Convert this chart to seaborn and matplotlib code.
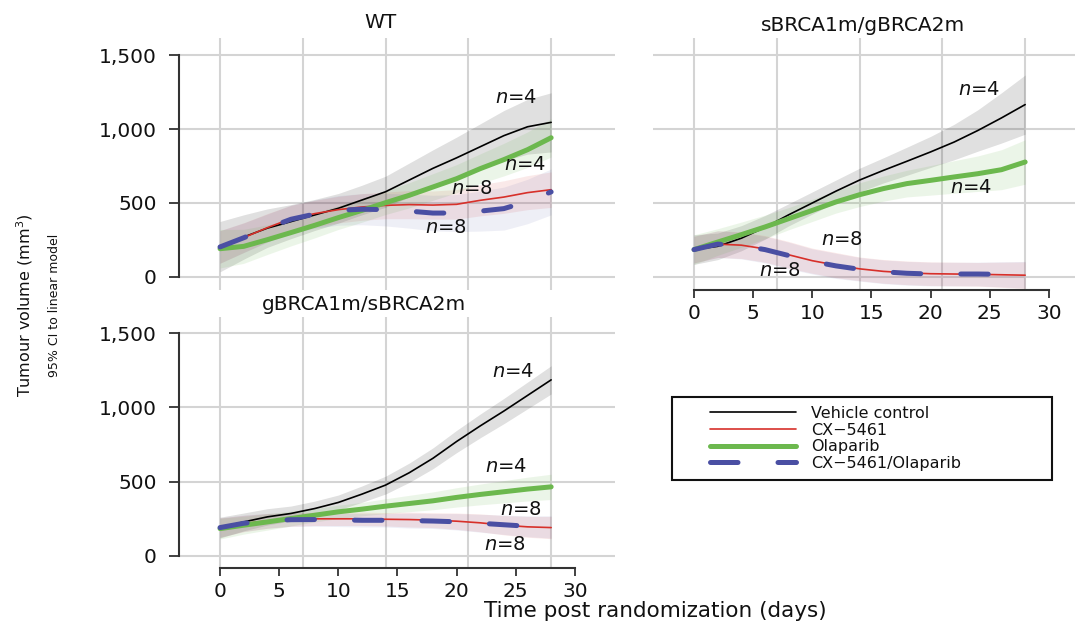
import matplotlib
matplotlib.use("Agg")
import matplotlib.pyplot as plt
import matplotlib.transforms as mtransforms
from matplotlib.lines import Line2D
from matplotlib.patches import Rectangle
import numpy as np
import pandas as pd
import seaborn as sns

# ---- data (days post randomization, tumour volume mm3) ----
days = [0, 2, 4, 6, 8, 10, 12, 14, 16, 18, 20, 22, 24, 26, 28]
treatments = ['Vehicle control', 'CX\u22125461', 'Olaparib', 'CX\u22125461/Olaparib']
panel_titles = ['WT', 'sBRCA1m/gBRCA2m', 'gBRCA1m/sBRCA2m']

# WT
wt_vehicle = [205, 270, 330, 374, 419, 464, 520, 576, 655, 734, 805, 880, 955, 1015, 1045]
wt_cx = [203, 266, 333, 394, 428, 455, 473, 484, 489, 486, 491, 518, 540, 570, 590]
wt_ola = [191, 207, 252, 300, 349, 401, 450, 502, 552, 608, 664, 732, 793, 860, 941]
wt_combo = [203, 265, 330, 390, 425, 450, 458, 455, 445, 432, 432, 445, 462, 510, 575]
wt_vehicle_ci = [170, 150, 130, 115, 105, 100, 100, 105, 115, 125, 140, 155, 170, 185, 200]
wt_cx_ci = [110, 100, 95, 90, 90, 90, 90, 90, 95, 95, 100, 105, 110, 115, 120]
wt_ola_ci = [130, 115, 100, 90, 85, 80, 80, 80, 85, 90, 95, 100, 110, 120, 130]
wt_combo_ci = [110, 100, 95, 95, 95, 100, 105, 110, 115, 120, 125, 135, 145, 150, 155]

# sBRCA1m/gBRCA2m
s1g2_vehicle = [185, 207, 262, 335, 420, 500, 580, 655, 720, 782, 845, 912, 990, 1075, 1165]
s1g2_cx = [185, 222, 215, 190, 150, 110, 80, 55, 38, 28, 22, 20, 18, 15, 12]
s1g2_ola = [185, 236, 286, 338, 394, 450, 507, 556, 597, 631, 653, 676, 698, 725, 777]
s1g2_combo = [185, 222, 212, 185, 145, 105, 75, 52, 35, 25, 20, 20, 20, 18, 15]
s1g2_vehicle_ci = [100, 90, 85, 80, 75, 75, 75, 80, 85, 95, 105, 120, 140, 170, 200]
s1g2_cx_ci = [90, 90, 90, 90, 90, 85, 85, 80, 80, 80, 80, 80, 80, 85, 90]
s1g2_ola_ci = [100, 90, 85, 80, 75, 75, 75, 80, 85, 90, 100, 110, 120, 135, 150]
s1g2_combo_ci = [90, 90, 90, 90, 90, 85, 85, 80, 80, 80, 80, 80, 80, 85, 90]

# gBRCA1m/sBRCA2m
g1s2_vehicle = [191, 229, 263, 286, 319, 360, 416, 477, 560, 657, 770, 875, 975, 1080, 1185]
g1s2_cx = [191, 218, 236, 245, 250, 250, 250, 247, 245, 241, 234, 223, 207, 196, 191]
g1s2_ola = [184, 207, 229, 252, 274, 297, 315, 335, 353, 371, 394, 414, 432, 450, 465]
g1s2_combo = [191, 220, 236, 244, 245, 243, 240, 240, 238, 235, 230, 220, 210, 200, 195]
g1s2_vehicle_ci = [70, 60, 55, 50, 50, 50, 55, 60, 65, 70, 75, 80, 85, 90, 95]
g1s2_cx_ci = [65, 55, 50, 45, 45, 45, 45, 45, 50, 50, 55, 60, 65, 70, 75]
g1s2_ola_ci = [70, 60, 55, 50, 45, 45, 45, 50, 55, 60, 65, 70, 75, 80, 85]
g1s2_combo_ci = [65, 55, 50, 45, 45, 45, 45, 45, 50, 50, 55, 60, 65, 70, 75]

# n= annotations: (day, volume, n)
wt_labels = [(25.0, 1216, 4), (25.8, 757, 4), (21.3, 601, 8), (19.1, 331, 8)]
s1g2_labels = [(24.1, 1264, 4), (23.4, 608, 4), (12.5, 255, 8), (7.3, 43, 8)]
g1s2_labels = [(24.8, 1241, 4), (24.2, 600, 4), (25.4, 315, 8), (24.1, 79, 8)]

# ---- styling ----
sns.set_style('white')
plt.rcParams['font.family'] = ['DejaVu Sans']
plt.rcParams['mathtext.fontset'] = 'dejavusans'
for k in ['text.color', 'axes.labelcolor', 'xtick.color', 'ytick.color']:
    plt.rcParams[k] = '#111111'

colors = {'Vehicle control': '#000000', 'CX\u22125461': '#d7302a',
          'Olaparib': '#6cb84e', 'CX\u22125461/Olaparib': '#4a4fa3'}
widths = {'Vehicle control': 1.2, 'CX\u22125461': 1.2, 'Olaparib': 3.6, 'CX\u22125461/Olaparib': 3.6}
styles = {'Vehicle control': '-', 'CX\u22125461': '-', 'Olaparib': '-',
          'CX\u22125461/Olaparib': (0, (5.5, 8))}
band_alpha = {'Vehicle control': 0.12, 'CX\u22125461': 0.10, 'Olaparib': 0.13,
              'CX\u22125461/Olaparib': 0.09}
grid_col = '#d4d4d4'
spine_col = '#333333'


def make_frame(lines, cis):
    rows = []
    for name, vals, ci in zip(treatments, lines, cis):
        for d, v, c in zip(days, vals, ci):
            rows.append({'day': d, 'volume': v, 'lo': v - c, 'hi': v + c, 'Treatment': name})
    return pd.DataFrame(rows)


panels = [
    make_frame([wt_vehicle, wt_cx, wt_ola, wt_combo],
               [wt_vehicle_ci, wt_cx_ci, wt_ola_ci, wt_combo_ci]),
    make_frame([s1g2_vehicle, s1g2_cx, s1g2_ola, s1g2_combo],
               [s1g2_vehicle_ci, s1g2_cx_ci, s1g2_ola_ci, s1g2_combo_ci]),
    make_frame([g1s2_vehicle, g1s2_cx, g1s2_ola, g1s2_combo],
               [g1s2_vehicle_ci, g1s2_cx_ci, g1s2_ola_ci, g1s2_combo_ci]),
]
labels = [wt_labels, s1g2_labels, g1s2_labels]

W, H = 1075, 624
fig = plt.figure(figsize=(W / 100, H / 100), dpi=100)
# axes boxes in pixels: left, top, width, height
boxes = [(179, 38, 436, 252), (653, 38, 436, 252), (179, 317, 436, 251)]
ylims = [(-88, 1615), (-88, 1615), (-81, 1608)]
title_pos = [(13.6, 1.063), (14.3, 1.05), (12.2, 1.048)]
show_y = [True, False, True]
show_x = [False, True, True]

for i, df in enumerate(panels):
    l, t, w, h = boxes[i]
    ax = fig.add_axes([l / W, 1 - (t + h) / H, w / W, h / H])
    ax.set_xlim(-3.47, 33.4)
    ax.set_ylim(*ylims[i])

    # grid: weekly vertical lines, horizontal at y ticks
    for d in [0, 7, 14, 21, 28]:
        ax.axvline(d, color=grid_col, lw=1.5, zorder=0)
    for v in [0, 500, 1000, 1500]:
        ax.axhline(v, color=grid_col, lw=1.5, zorder=0)

    for name in treatments:
        sub = df[df['Treatment'] == name]
        ax.fill_between(sub['day'], sub['lo'], sub['hi'], color=colors[name],
                        alpha=band_alpha[name], lw=0, zorder=1)
    for name in treatments:
        sub = df[df['Treatment'] == name]
        sns.lineplot(data=sub, x='day', y='volume', ax=ax, color=colors[name],
                     lw=widths[name], linestyle=styles[name], errorbar=None,
                     dash_capstyle='round', legend=False, zorder=3)

    for x, y, n in labels[i]:
        ax.text(x, y, r'$n$=%d' % n, ha='center', va='center', fontsize=14, zorder=5)

    trans = mtransforms.blended_transform_factory(ax.transData, ax.transAxes)
    ax.text(title_pos[i][0], title_pos[i][1], panel_titles[i], transform=trans,
            ha='center', va='center', fontsize=14.5)

    ax.set_xlabel('')
    ax.set_ylabel('')
    for s in ['top', 'right', 'left', 'bottom']:
        ax.spines[s].set_visible(False)
    if show_y[i]:
        ax.spines['left'].set_visible(True)
        ax.spines['left'].set_bounds(0, 1500)
        ax.spines['left'].set_color(spine_col)
        ax.spines['left'].set_linewidth(1.5)
        ax.set_yticks([0, 500, 1000, 1500])
        ax.set_yticklabels(['0', '500', '1,000', '1,500'])
        ax.tick_params(axis='y', length=7, width=1.3, color=spine_col, pad=9,
                       labelsize=14.5, left=True)
    else:
        ax.set_yticks([])
    if show_x[i]:
        ax.spines['bottom'].set_visible(True)
        ax.spines['bottom'].set_bounds(0, 30)
        ax.spines['bottom'].set_color(spine_col)
        ax.spines['bottom'].set_linewidth(1.5)
        ax.set_xticks([0, 5, 10, 15, 20, 25, 30])
        ax.tick_params(axis='x', length=6, width=1.3, color=spine_col, pad=4,
                       labelsize=14.5, bottom=True)
    else:
        ax.set_xticks([])

# axis titles
fig.text(25 / W, 1 - 305 / H, 'Tumour volume (mm$^3$)', rotation=90,
         ha='center', va='center', fontsize=11.5)
fig.text(55 / W, 1 - 305 / H, '95% CI to linear model', rotation=90,
         ha='center', va='center', fontsize=9)
fig.text(655 / W, 1 - 611 / H, 'Time post randomization (days)',
         ha='center', va='center', fontsize=15.5)

# legend with its own frame
fig.patches.append(Rectangle((672 / W, 1 - 480 / H), 380 / W, 83 / H,
                             transform=fig.transFigure, fill=False,
                             edgecolor='#111111', lw=1.5))
handles = [Line2D([], [], color=colors[n], lw=widths[n], linestyle=styles[n],
                  dash_capstyle='round') for n in treatments]
fig.legend(handles, treatments, loc='upper left',
           bbox_to_anchor=(710 / W, 1 - 406 / H), frameon=False,
           fontsize=11.5, handlelength=5.4, handletextpad=0.9,
           labelspacing=0.1, borderpad=0, borderaxespad=0)

fig.savefig('out.png', dpi=100)
